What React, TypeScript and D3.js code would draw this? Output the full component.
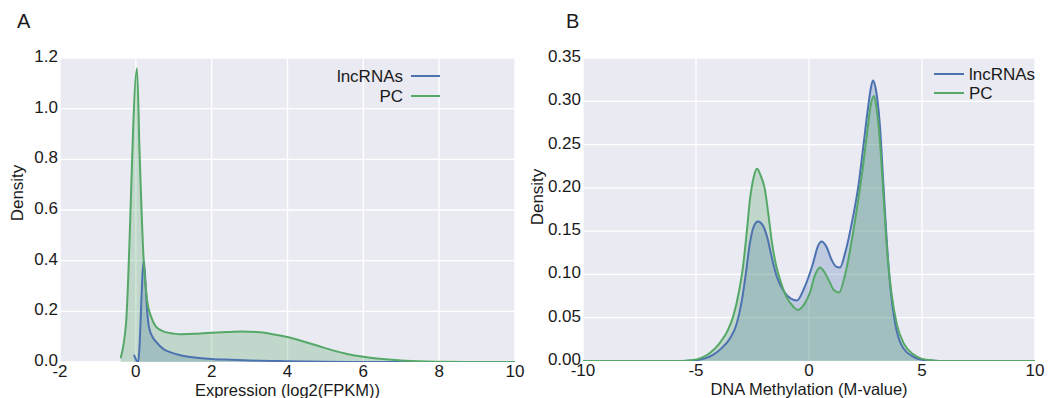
import React from 'react';
import * as d3 from 'd3';

// ---------- Data ----------
const seriesNames = ['lncRNAs', 'PC'];

// Panel A: Expression (log2(FPKM)) density
const exprTicksX = [-2, 0, 2, 4, 6, 8, 10];
const exprTicksY = [0, 0.2, 0.4, 0.6, 0.8, 1.0, 1.2];
const exprLncX = [-0.05, 0.06, 0.21, 0.26, 0.3, 0.35, 0.45, 0.53, 0.74, 0.92, 1.2, 1.62, 2.0, 2.5, 3.0, 4.0, 5.0, 6.0, 7.0, 8.0, 10.0];
const exprLncY = [0.028, 0.0, 0.4, 0.3, 0.2, 0.135, 0.097, 0.08, 0.05, 0.038, 0.026, 0.017, 0.012, 0.009, 0.006, 0.003, 0.001, 0.0, 0.0, 0.0, 0.0];
const exprPcX = [-0.4, -0.26, 0.03, 0.1, 0.2, 0.3, 0.4, 0.53, 0.74, 1.0, 1.2, 1.6, 2.0, 2.4, 2.8, 3.2, 3.6, 4.0, 4.4, 4.8, 5.2, 5.6, 6.0, 6.5, 7.0, 7.5, 8.0, 9.0, 10.0];
const exprPcY = [0.015, 0.15, 1.16, 0.82, 0.42, 0.24, 0.18, 0.14, 0.12, 0.112, 0.11, 0.112, 0.115, 0.118, 0.12, 0.118, 0.11, 0.099, 0.082, 0.064, 0.046, 0.031, 0.021, 0.012, 0.006, 0.003, 0.001, 0.0, 0.0];

// Panel B: DNA Methylation (M-value) density
const methTicksX = [-10, -5, 0, 5, 10];
const methTicksY = [0, 0.05, 0.1, 0.15, 0.2, 0.25, 0.3, 0.35];
const methLncX = [-10, -6, -5, -4.6, -4.25, -3.9, -3.5, -3.2, -2.97, -2.8, -2.61, -2.45, -2.26, -2.05, -1.86, -1.65, -1.42, -1.1, -0.8, -0.53, -0.2, 0.18, 0.4, 0.56, 0.75, 1.0, 1.2, 1.37, 1.6, 1.95, 2.2, 2.39, 2.6, 2.75, 2.83, 2.95, 3.14, 3.3, 3.45, 3.6, 3.8, 4.1, 4.6, 5.0, 5.5, 6.0, 10];
const methLncY = [0, 0, 0.001, 0.003, 0.007, 0.014, 0.026, 0.043, 0.07, 0.1, 0.137, 0.155, 0.161, 0.157, 0.144, 0.12, 0.097, 0.08, 0.072, 0.07, 0.085, 0.113, 0.133, 0.138, 0.133, 0.117, 0.109, 0.108, 0.125, 0.167, 0.205, 0.245, 0.29, 0.317, 0.324, 0.315, 0.271, 0.2, 0.135, 0.085, 0.045, 0.018, 0.005, 0.0015, 0.0004, 0, 0];
const methPcX = [-10, -6, -5.2, -4.82, -4.4, -3.94, -3.6, -3.36, -3.1, -2.92, -2.75, -2.61, -2.45, -2.3, -2.15, -1.95, -1.8, -1.64, -1.45, -1.28, -1.0, -0.7, -0.49, -0.2, 0.04, 0.25, 0.49, 0.7, 0.9, 1.1, 1.33, 1.6, 1.95, 2.2, 2.39, 2.6, 2.75, 2.88, 3.0, 3.14, 3.3, 3.45, 3.65, 3.89, 4.2, 4.6, 5.0, 5.5, 6.0, 10];
const methPcY = [0, 0, 0.001, 0.003, 0.009, 0.021, 0.035, 0.051, 0.08, 0.109, 0.15, 0.187, 0.212, 0.222, 0.215, 0.198, 0.17, 0.137, 0.11, 0.094, 0.074, 0.063, 0.059, 0.066, 0.079, 0.098, 0.108, 0.102, 0.092, 0.082, 0.079, 0.1, 0.148, 0.19, 0.225, 0.27, 0.298, 0.306, 0.29, 0.253, 0.19, 0.129, 0.078, 0.042, 0.02, 0.008, 0.0025, 0.0006, 0, 0];

// ---------- Style ----------
const BLUE = '#4C72B0';
const GREEN = '#55A868';
const BG = '#EAEAF2';
const FONT = '"Liberation Sans", Arial, Helvetica, sans-serif';
const TEXT = '#1a1a1a';

type Series = { name: string; xs: number[]; ys: number[]; color: string };

interface PanelProps {
  letter: string;
  letterX: number;
  left: number;
  right: number;
  top: number;
  bottom: number;
  xDomain: [number, number];
  yDomain: [number, number];
  xTicks: number[];
  yTicks: number[];
  yFormat: (v: number) => string;
  xLabel: string;
  yLabelX: number;
  yLabelY: number;
  xTickBaseline: number;
  xLabelBaseline: number;
  series: Series[];
  legend: 'leftText' | 'rightText';
  legendX1: number;
  legendX2: number;
  legendY: number[];
  legendTextX: number;
  id: string;
}

function Panel(p: PanelProps) {
  const x = d3.scaleLinear().domain(p.xDomain).range([p.left, p.right]);
  const y = d3.scaleLinear().domain(p.yDomain).range([p.bottom, p.top]);
  const pts = (s: Series) => s.xs.map((v, i) => [v, s.ys[i]] as [number, number]);
  const area = d3
    .area<[number, number]>()
    .x((d) => x(d[0]))
    .y0(y(0))
    .y1((d) => y(d[1]))
    .curve(d3.curveMonotoneX);
  const line = d3
    .line<[number, number]>()
    .x((d) => x(d[0]))
    .y((d) => y(d[1]))
    .curve(d3.curveMonotoneX);
  return (
    <g>
      <text x={p.letterX} y={28} fontSize={20} fontFamily={FONT} fill={TEXT}>
        {p.letter}
      </text>
      <rect x={p.left} y={p.top} width={p.right - p.left} height={p.bottom - p.top} fill={BG} />
      <clipPath id={p.id}>
        <rect x={p.left} y={p.top - 2} width={p.right - p.left} height={p.bottom - p.top + 2} />
      </clipPath>
      {p.xTicks.map((t) => (
        <line key={'gx' + t} x1={x(t)} x2={x(t)} y1={p.top} y2={p.bottom} stroke="#fff" strokeWidth={1.3} />
      ))}
      {p.yTicks.map((t) => (
        <line key={'gy' + t} x1={p.left} x2={p.right} y1={y(t)} y2={y(t)} stroke="#fff" strokeWidth={1.3} />
      ))}
      <g clipPath={`url(#${p.id})`}>
        {p.series.map((s) => (
          <path key={'a' + s.name} d={area(pts(s)) || ''} fill={s.color} fillOpacity={0.27} />
        ))}
        {p.series.map((s) => (
          <path key={'l' + s.name} d={line(pts(s)) || ''} fill="none" stroke={s.color} strokeWidth={2} strokeLinejoin="round" />
        ))}
      </g>
      {p.yTicks.map((t) => (
        <text
          key={'ty' + t}
          x={p.left - 2}
          y={y(t) + 4}
          textAnchor="end"
          fontSize={17}
          fontFamily={FONT}
          fill={TEXT}
        >
          {p.yFormat(t)}
        </text>
      ))}
      {p.xTicks.map((t) => (
        <text
          key={'tx' + t}
          x={x(t)}
          y={p.xTickBaseline}
          textAnchor="middle"
          fontSize={17}
          fontFamily={FONT}
          fill={TEXT}
        >
          {String(t)}
        </text>
      ))}
      <text
        x={(p.left + p.right) / 2}
        y={p.xLabelBaseline}
        textAnchor="middle"
        fontSize={16.5}
        fontFamily={FONT}
        fill={TEXT}
      >
        {p.xLabel}
      </text>
      <text
        transform={`translate(${p.yLabelX},${p.yLabelY}) rotate(-90)`}
        textAnchor="middle"
        fontSize={17}
        fontFamily={FONT}
        fill={TEXT}
      >
        Density
      </text>
      {p.series.map((s, i) => (
        <g key={'lg' + s.name}>
          <line
            x1={p.legendX1}
            x2={p.legendX2}
            y1={p.legendY[i]}
            y2={p.legendY[i]}
            stroke={s.color}
            strokeWidth={2}
          />
          <text
            x={p.legendTextX}
            y={p.legendY[i] + 6}
            textAnchor={p.legend === 'leftText' ? 'end' : 'start'}
            fontSize={17}
            fontFamily={FONT}
            fill={TEXT}
          >
            {s.name}
          </text>
        </g>
      ))}
    </g>
  );
}

export default function App() {
  const fmt1 = d3.format('.1f');
  const fmt2 = d3.format('.2f');
  return (
    <svg
      width={1049}
      height={398}
      style={{ position: 'absolute', left: 0, top: 0, background: '#fff' }}
    >
      <Panel
        id="clipA"
        letter="A"
        letterX={17}
        left={60}
        right={515}
        top={58}
        bottom={362}
        xDomain={[-2, 10]}
        yDomain={[0, 1.2]}
        xTicks={exprTicksX}
        yTicks={exprTicksY}
        yFormat={fmt1}
        xLabel="Expression (log2(FPKM))"
        yLabelX={23}
        yLabelY={193}
        xTickBaseline={377}
        xLabelBaseline={396}
        series={[
          { name: seriesNames[0], xs: exprLncX, ys: exprLncY, color: BLUE },
          { name: seriesNames[1], xs: exprPcX, ys: exprPcY, color: GREEN },
        ]}
        legend="leftText"
        legendX1={411}
        legendX2={440}
        legendY={[76, 96]}
        legendTextX={403}
      />
      <Panel
        id="clipB"
        letter="B"
        letterX={566}
        left={583}
        right={1035}
        top={58}
        bottom={361}
        xDomain={[-10, 10]}
        yDomain={[0, 0.35]}
        xTicks={methTicksX}
        yTicks={methTicksY}
        yFormat={fmt2}
        xLabel="DNA Methylation (M-value)"
        yLabelX={543}
        yLabelY={197}
        xTickBaseline={376}
        xLabelBaseline={395}
        series={[
          { name: seriesNames[0], xs: methLncX, ys: methLncY, color: BLUE },
          { name: seriesNames[1], xs: methPcX, ys: methPcY, color: GREEN },
        ]}
        legend="rightText"
        legendX1={934}
        legendX2={964}
        legendY={[74, 93]}
        legendTextX={969}
      />
    </svg>
  );
}
